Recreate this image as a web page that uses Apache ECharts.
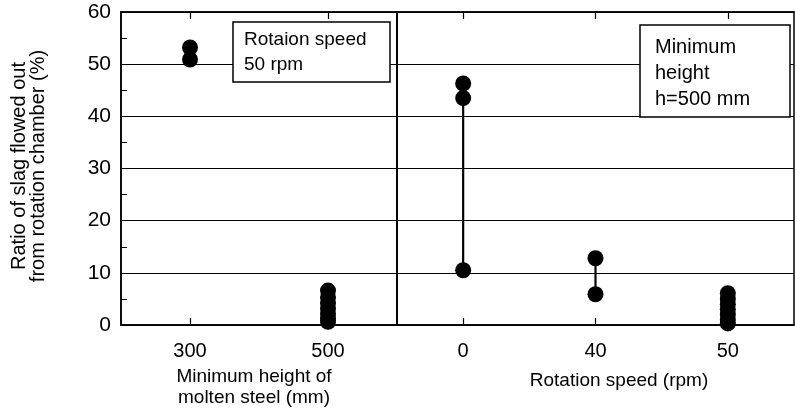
<!DOCTYPE html>
<html>
<head>
<meta charset="utf-8">
<script src="https://cdn.jsdelivr.net/npm/echarts@6/dist/echarts.min.js"></script>
<style>html,body{margin:0;padding:0;background:#fff}#c{width:795px;height:417px}</style>
</head>
<body>
<div id="c"></div>
<script>
// categories
const leftCats = ['300', '500'];
const rightCats = ['0', '40', '50'];
// y ticks
const yMin = 0, yMax = 60, yStep = 10;
// values (ratio of slag flowed out, %)
const h300 = [53.2, 50.9];
const h500 = [6.6, 5.3, 4.2, 3.2, 2.2, 1.3, 0.6];
const r0 = [46.3, 43.5, 10.5];
const r40 = [12.8, 5.9];
const r50 = [6.1, 5.0, 4.0, 3.0, 2.0, 1.0, 0.3];

const FONT = 'Liberation Sans, Arial, sans-serif';
const chart = echarts.init(document.getElementById('c'));

function pts(cat, arr) { return arr.map(v => [cat, v]); }
function seg(cat, arr) { return [[cat, Math.min(...arr)], [cat, Math.max(...arr)]]; }

const black = '#000';
const xBase = (gi, cats, pos) => ({
  type: 'category', gridIndex: gi, data: cats, position: pos,
  axisLine: { show: true, lineStyle: { color: black, width: 1.5 } },
  axisTick: { show: true, inside: true, length: 7, alignWithLabel: true, lineStyle: { color: black, width: 1.2 } },
  axisLabel: { show: pos === 'bottom', color: black, fontFamily: FONT, fontSize: 20, margin: 16 },
  splitLine: { show: false }
});
const yBase = (gi, labels) => ({
  type: 'value', gridIndex: gi, min: yMin, max: yMax, interval: yStep,
  axisLine: { show: true, lineStyle: { color: black, width: 1.5 } },
  axisTick: { show: labels, inside: true, length: 6, lineStyle: { color: black } },
  minorTick: { show: labels, splitNumber: 2, length: 6, lineStyle: { color: black } },
  axisLabel: { show: labels, color: black, fontFamily: FONT, fontSize: 21, margin: 10 },
  splitLine: { show: true, lineStyle: { color: black, width: 1.2 } }
});

chart.setOption({
  animation: false,
  backgroundColor: '#fff',
  grid: [
    { left: 121, top: 12, width: 276, height: 313, show: true, borderColor: black, borderWidth: 1.5 },
    { left: 397, top: 12, width: 397, height: 313, show: true, borderColor: black, borderWidth: 1.5 }
  ],
  xAxis: [
    xBase(0, leftCats, 'bottom'), xBase(0, leftCats, 'top'),
    xBase(1, rightCats, 'bottom'), xBase(1, rightCats, 'top')
  ],
  yAxis: [yBase(0, true), yBase(1, false)],
  series: [
    { type: 'line', xAxisIndex: 2, yAxisIndex: 1, data: seg('0', r0), symbol: 'none', lineStyle: { color: black, width: 2.2 } },
    { type: 'line', xAxisIndex: 2, yAxisIndex: 1, data: seg('40', r40), symbol: 'none', lineStyle: { color: black, width: 2.2 } },
    { type: 'scatter', xAxisIndex: 0, yAxisIndex: 0, data: pts('300', h300).concat(pts('500', h500)), symbolSize: 16, itemStyle: { color: black, opacity: 1 } },
    { type: 'scatter', xAxisIndex: 2, yAxisIndex: 1, data: pts('0', r0).concat(pts('40', r40), pts('50', r50)), symbolSize: 16, itemStyle: { color: black, opacity: 1 } }
  ],
  graphic: [
    { type: 'text', x: 29, y: 166, rotation: Math.PI / 2, style: { text: 'Ratio of slag flowed out\nfrom rotation chamber (%)', font: '20px ' + FONT, fill: black, align: 'center', verticalAlign: 'middle', lineHeight: 19 } },
    { type: 'text', x: 254, y: 387, style: { text: 'Minimum height of\nmolten steel (mm)', font: '19px ' + FONT, fill: black, align: 'center', verticalAlign: 'middle', lineHeight: 21 } },
    { type: 'text', x: 619, y: 381, style: { text: 'Rotation speed (rpm)', font: '19px ' + FONT, fill: black, align: 'center', verticalAlign: 'middle' } },
    { type: 'rect', shape: { x: 233, y: 22, width: 157, height: 60 }, style: { fill: '#fff', stroke: black, lineWidth: 1.5 }, z: 10 },
    { type: 'text', x: 244, y: 52, style: { text: 'Rotaion speed\n50 rpm', font: '19px ' + FONT, fill: black, align: 'left', verticalAlign: 'middle', lineHeight: 25 }, z: 11 },
    { type: 'rect', shape: { x: 640, y: 25, width: 150, height: 92 }, style: { fill: '#fff', stroke: black, lineWidth: 1.5 }, z: 10 },
    { type: 'text', x: 655, y: 73, style: { text: 'Minimum\nheight\nh=500 mm', font: '20px ' + FONT, fill: black, align: 'left', verticalAlign: 'middle', lineHeight: 26 }, z: 11 }
  ]
});
</script>
</body>
</html>
